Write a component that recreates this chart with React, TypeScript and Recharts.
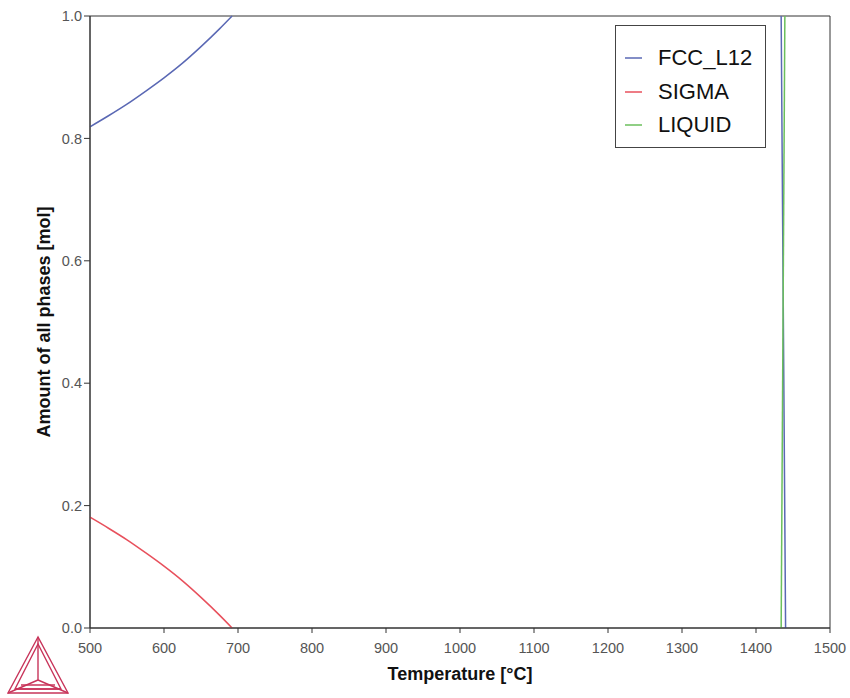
import { LineChart, Line, XAxis, YAxis, ReferenceArea } from "recharts";

// phase amounts (temperature in °C, amount in mol)
const lowTemps = [500, 525, 550, 575, 600, 625, 650, 675, 692];
const fccLow = [0.819, 0.837, 0.856, 0.877, 0.899, 0.923, 0.95, 0.979, 1.0];
const sigmaLow = [0.181, 0.163, 0.144, 0.123, 0.101, 0.077, 0.05, 0.021, 0.0];

const meltTempsFcc = [1434, 1440];
const fccMelt = [1.0, 0.0];
const meltTempsLiq = [1434, 1439];
const liquidMelt = [0.0, 1.0];

const xTicks = [500, 600, 700, 800, 900, 1000, 1100, 1200, 1300, 1400, 1500];
const yTicks = [0, 0.2, 0.4, 0.6, 0.8, 1.0];

const phases = [
  { name: "FCC_L12", color: "#5a68b4" },
  { name: "SIGMA", color: "#e8505c" },
  { name: "LIQUID", color: "#6bbf5c" },
];

const FONT = '"Liberation Sans", Arial, sans-serif';

// FCC has two visible pieces, split by a null so the flat 1.0 stretch stays hidden
const fccData = [
  ...lowTemps.map((T, i) => ({ T, v: fccLow[i] })),
  { T: 1000, v: null },
  ...meltTempsFcc.map((T, i) => ({ T, v: fccMelt[i] })),
];
const sigmaData = lowTemps.map((T, i) => ({ T, v: sigmaLow[i] }));
const liquidData = meltTempsLiq.map((T, i) => ({ T, v: liquidMelt[i] }));

const Logo = () => (
  <svg
    width={70}
    height={66}
    style={{ position: "absolute", left: 3, top: 632 }}
    fill="none"
    stroke="#c8345a"
    strokeWidth={1.4}
  >
    <polygon points="35,5 5,61 65,61" />
    <polygon points="35,12 12,57 58,57" />
    <line x1="35" y1="5" x2="35" y2="48" />
    <line x1="5" y1="61" x2="35" y2="48" />
    <line x1="65" y1="61" x2="35" y2="48" />
    <line x1="12" y1="57" x2="58" y2="57" />
    <line x1="18" y1="53" x2="52" y2="53" />
  </svg>
);

const PhaseLegend = () => (
  <div
    style={{
      position: "absolute",
      left: 615,
      top: 25,
      width: 151,
      height: 123,
      border: "1px solid #444",
      background: "#fff",
      fontFamily: FONT,
      fontSize: 22,
      color: "#111",
      boxSizing: "border-box",
    }}
  >
    {phases.map((p, i) => (
      <div
        key={p.name}
        style={{
          position: "absolute",
          left: 9,
          top: 16 + i * 33.5,
          height: 32,
          display: "flex",
          alignItems: "center",
        }}
      >
        <svg width={17} height={4}>
          <line x1={0} y1={2} x2={17} y2={2} stroke={p.color} strokeWidth={1.5} />
        </svg>
        <span style={{ marginLeft: 16 }}>{p.name}</span>
      </div>
    ))}
  </div>
);

export default function App() {
  return (
    <div
      style={{
        position: "absolute",
        left: 0,
        top: 0,
        width: 850,
        height: 698,
        background: "#fff",
        fontFamily: FONT,
      }}
    >
      <LineChart
        width={850}
        height={698}
        margin={{ top: 16, right: 20, left: 0, bottom: 0 }}
      >
        <XAxis
          type="number"
          dataKey="T"
          domain={[500, 1500]}
          ticks={xTicks}
          allowDuplicatedCategory={false}
          height={70}
          stroke="#333"
          tickSize={5}
          tick={{ fill: "#555", fontSize: 14.5, fontFamily: FONT, dy: 8 }}
          label={{
            value: "Temperature [°C]",
            position: "insideBottom",
            offset: 18,
            fill: "#111",
            fontSize: 18,
            fontWeight: "bold",
            fontFamily: FONT,
          }}
        />
        <YAxis
          type="number"
          dataKey="v"
          domain={[0, 1]}
          ticks={yTicks}
          width={90}
          stroke="#333"
          tickSize={6}
          tickFormatter={(v: number) => v.toFixed(1)}
          tick={{ fill: "#555", fontSize: 14.5, fontFamily: FONT }}
          label={{
            value: "Amount of all phases [mol]",
            angle: -90,
            position: "insideLeft",
            offset: 44,
            style: { textAnchor: "middle" },
            fill: "#111",
            fontSize: 18,
            fontWeight: "bold",
            fontFamily: FONT,
          }}
        />
        <ReferenceArea
          x1={500}
          x2={1500}
          y1={0}
          y2={1}
          fill="none"
          stroke="#333"
          strokeWidth={1}
          ifOverflow="visible"
        />
        <Line
          data={fccData}
          dataKey="v"
          name="FCC_L12"
          type="monotone"
          stroke={phases[0].color}
          strokeWidth={1.5}
          dot={false}
          isAnimationActive={false}
        />
        <Line
          data={sigmaData}
          dataKey="v"
          name="SIGMA"
          type="monotone"
          stroke={phases[1].color}
          strokeWidth={1.5}
          dot={false}
          isAnimationActive={false}
        />
        <Line
          data={liquidData}
          dataKey="v"
          name="LIQUID"
          stroke={phases[2].color}
          strokeWidth={1.5}
          dot={false}
          isAnimationActive={false}
        />
      </LineChart>
      <PhaseLegend />
      <Logo />
    </div>
  );
}
